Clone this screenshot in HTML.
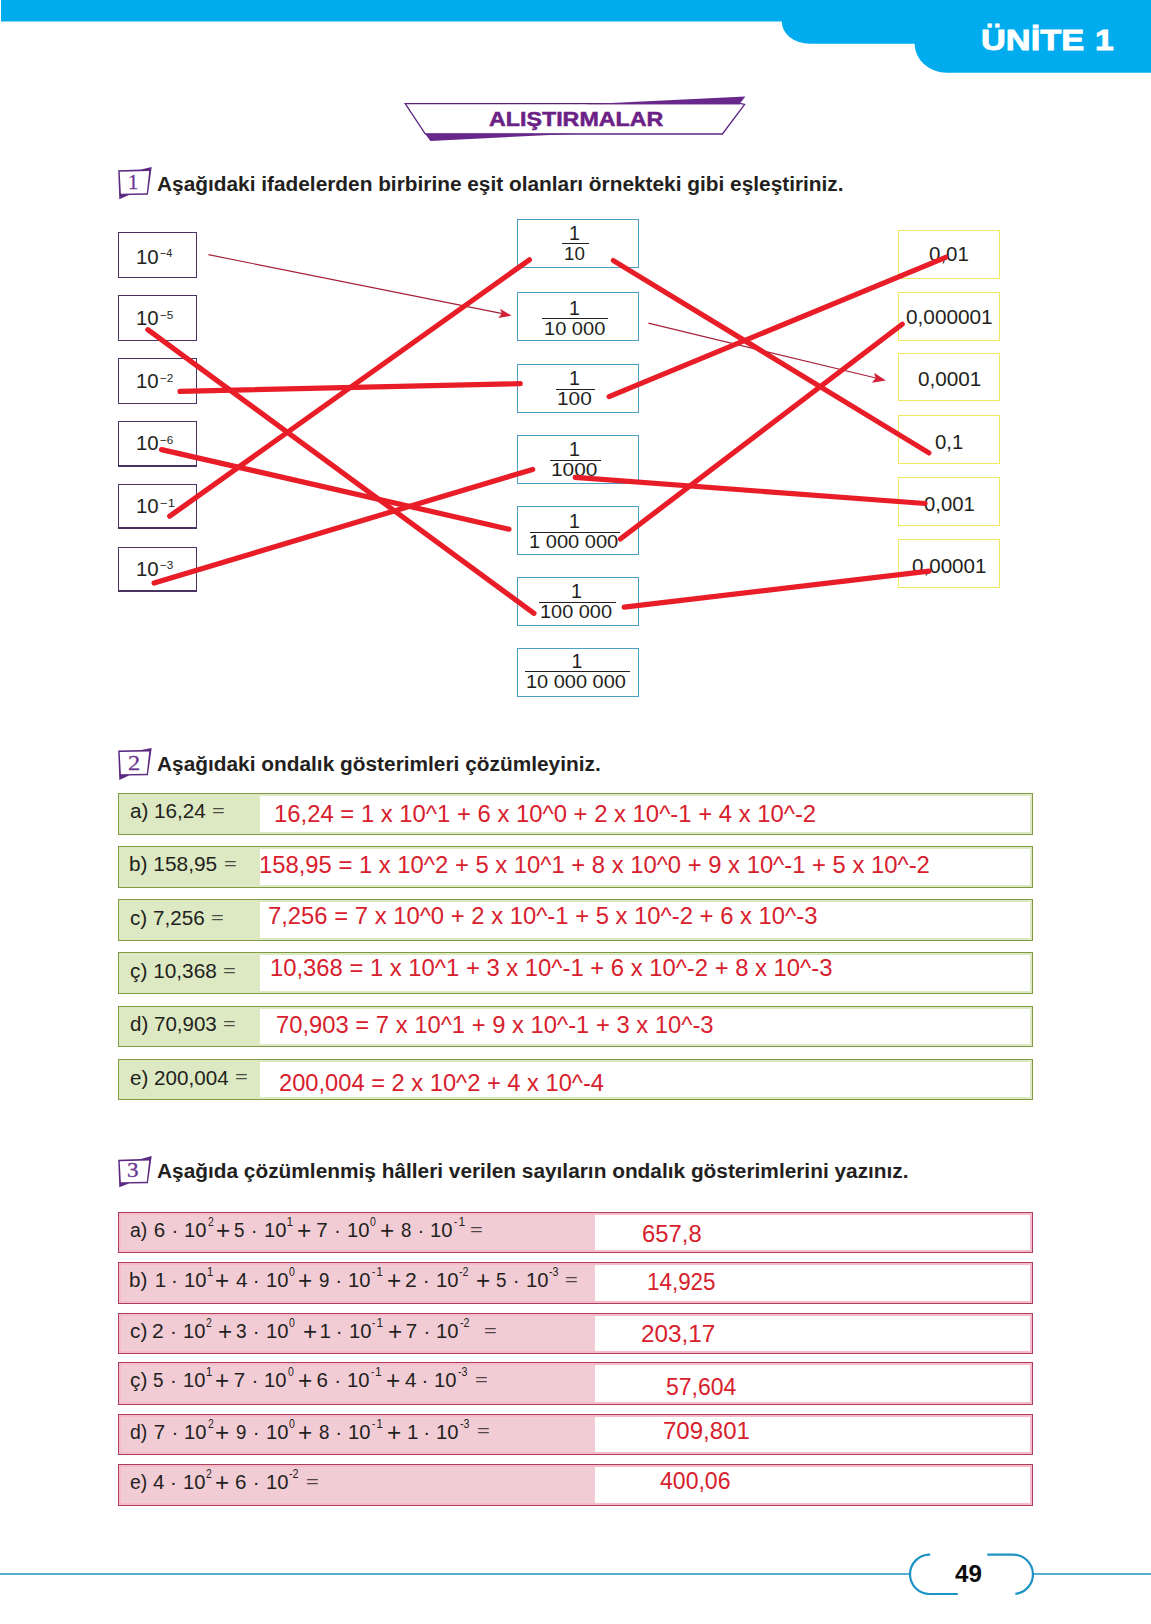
<!DOCTYPE html>
<html lang="tr"><head><meta charset="utf-8"><title>Alıştırmalar – Ünite 1</title>
<style>
html,body{margin:0;padding:0;background:#fff}
body{width:1151px;height:1624px;position:relative;overflow:hidden;font-family:'Liberation Sans',sans-serif;font-kerning:none;color:#231f20}
.abs{position:absolute;display:block}
.t{position:absolute;white-space:pre;line-height:0;transform-origin:0 50%;display:block}
.bx{position:absolute;box-sizing:border-box;background:#fff}
.lb{border:1px solid #4a3263}
.cb{border:1px solid #4b9fc3}
.rb{border:1px solid #f0e85e}
.bar{position:absolute;height:1px;background:#231f20}
.row{position:absolute;box-sizing:border-box}
.row .ans{position:absolute;top:2px;bottom:2px;right:2px;background:#fff}
.g{background:#dce9c2;border:1px solid #7f9a40}
.p{background:#f1ccd5;border:1px solid #ae3f5c;box-shadow:inset 0 0 0 2px #f7bccb}
</style></head>
<body>
<header>
<svg class="abs" style="left:0;top:0" width="1151" height="80" viewBox="0 0 1151 80"><path d="M1,0 H1151 V72.8 H946.9 A32.3,29.1 0 0 1 914.6,43.7 H809.6 A27.9,22.1 0 0 1 781.7,21.6 H1 Z" fill="#00acee"/></svg>
<span class="t" id="t1" style="left:981.45px;top:39.70px;font-size:30.00px;color:#fff;font-weight:bold;transform:scaleX(1.1467);-webkit-text-stroke:0.9px #fff;">ÜNİTE</span>
<span class="t" id="t2" style="left:1094.53px;top:39.70px;font-size:30.00px;color:#fff;font-weight:bold;transform:scaleX(1.1197);-webkit-text-stroke:0.9px #fff;">1</span>
<svg class="abs" style="left:395px;top:90px" width="360" height="60" viewBox="395 90 360 60">
<path d="M405.2,103.7 L741,103.7 L744.6,104.4 L722.4,134 L425.4,134 Z" fill="#fff" stroke="#5f2482" stroke-width="1.3" stroke-linejoin="miter"/>
<path d="M585,104.2 L745.4,96.5 L739.3,104.2 Z" fill="#68278a"/>
<path d="M425,133.7 L576,133.7 L430.4,140.9 Z" fill="#68278a"/>
</svg>
<span class="t" id="t3" style="left:489.00px;top:118.90px;font-size:20.20px;color:#6c2186;font-weight:bold;transform:scaleX(1.1515);-webkit-text-stroke:0.5px #6c2186;">ALIŞTIRMALAR</span>
</header>
<main>
<svg class="abs" style="left:110px;top:161.3px" width="50" height="44" viewBox="110 161.3 50 44"><path d="M118.2,170.5 L141,169.9 L151.7,167.3 L147.9,195.0 L129,195.4 L119.3,199.6 Z M119.7,172.0 L149.2,171.3 L146.8,193.5 L120.9,194.0 Z" fill="#5c2a80" fill-rule="evenodd"/></svg>
<span class="t" id="t4" style="left:127.97px;top:181.88px;font-size:22.00px;color:#6a3590;font-family:'Liberation Serif',serif;transform:scaleX(0.9333);-webkit-text-stroke:0.3px #6a3590;">1</span>
<span class="t" id="t5" style="left:157.20px;top:183.67px;font-size:20.00px;color:#231f20;font-weight:bold;transform:scaleX(1.0417);">Aşağıdaki ifadelerden birbirine eşit olanları örnekteki gibi eşleştiriniz.</span>
<svg class="abs" style="left:110px;top:742.2px" width="50" height="44" viewBox="110 742.2 50 44"><path d="M118.2,750.8 L141,750.2 L151.7,748.2 L147.9,775.4 L129,775.8 L119.3,780.3 Z M119.7,752.3 L149.2,751.6 L146.8,773.9 L120.9,774.4 Z" fill="#5c2a80" fill-rule="evenodd"/></svg>
<span class="t" id="t6" style="left:128.35px;top:762.78px;font-size:22.00px;color:#6a3590;font-family:'Liberation Serif',serif;transform:scaleX(1.1100);-webkit-text-stroke:0.3px #6a3590;">2</span>
<span class="t" id="t7" style="left:157.20px;top:763.67px;font-size:20.00px;color:#231f20;font-weight:bold;transform:scaleX(1.0423);">Aşağıdaki ondalık gösterimleri çözümleyiniz.</span>
<svg class="abs" style="left:110px;top:1149.6px" width="50" height="44" viewBox="110 1149.6 50 44"><path d="M118.2,1159.3 L141,1158.7 L151.7,1155.6 L147.9,1182.8 L129,1183.2 L119.3,1186.8 Z M119.7,1160.8 L149.2,1160.1 L146.8,1181.3 L120.9,1181.8 Z" fill="#5c2a80" fill-rule="evenodd"/></svg>
<span class="t" id="t8" style="left:127.10px;top:1170.28px;font-size:22.00px;color:#6a3590;font-family:'Liberation Serif',serif;transform:scaleX(1.0500);-webkit-text-stroke:0.3px #6a3590;">3</span>
<span class="t" id="t9" style="left:157.20px;top:1170.87px;font-size:20.00px;color:#231f20;font-weight:bold;transform:scaleX(1.0419);">Aşağıda çözümlenmiş hâlleri verilen sayıların ondalık gösterimlerini yazınız.</span>
<section id="ex1">
<div class="bx lb" style="left:118px;top:232px;width:79px;height:46px;"></div>
<span class="t" id="t10" style="left:135.93px;top:256.73px;font-size:20.40px;">10</span>
<span class="t" id="t11" style="left:160.00px;top:253.08px;font-size:11.60px;transform:scaleX(0.9368);">−4</span>
<div class="bx lb" style="left:118px;top:295px;width:79px;height:46px;"></div>
<span class="t" id="t12" style="left:135.93px;top:318.13px;font-size:20.40px;">10</span>
<span class="t" id="t13" style="left:160.00px;top:315.08px;font-size:11.60px;transform:scaleX(1.0101);">−5</span>
<div class="bx lb" style="left:118px;top:358px;width:79px;height:46px;"></div>
<span class="t" id="t14" style="left:135.93px;top:381.43px;font-size:20.40px;">10</span>
<span class="t" id="t15" style="left:160.00px;top:378.08px;font-size:11.60px;transform:scaleX(1.0101);">−2</span>
<div class="bx lb" style="left:118px;top:421px;width:79px;height:46px;border-bottom-width:2px;"></div>
<span class="t" id="t16" style="left:135.93px;top:443.43px;font-size:20.40px;">10</span>
<span class="t" id="t17" style="left:160.00px;top:440.08px;font-size:11.60px;transform:scaleX(1.0101);">−6</span>
<div class="bx lb" style="left:118px;top:484px;width:79px;height:45px;border-bottom-width:2px;"></div>
<span class="t" id="t18" style="left:135.93px;top:506.43px;font-size:20.40px;">10</span>
<span class="t" id="t19" style="left:160.00px;top:502.78px;font-size:11.60px;transform:scaleX(1.1300);">−1</span>
<div class="bx lb" style="left:118px;top:547px;width:79px;height:45px;border-bottom-width:2px;"></div>
<span class="t" id="t20" style="left:135.93px;top:568.73px;font-size:20.40px;">10</span>
<span class="t" id="t21" style="left:160.00px;top:565.08px;font-size:11.60px;transform:scaleX(1.0101);">−3</span>
<div class="bx cb" style="left:517px;top:219px;width:122px;height:49px;"></div>
<span class="t" id="t22" style="left:568.90px;top:233.01px;font-size:19.60px;">1</span>
<div class="bar" style="left:562.0px;top:243px;width:27.0px"></div>
<span class="t" id="t23" style="left:563.69px;top:253.85px;font-size:19.20px;transform:scaleX(0.9778);">10</span>
<div class="bx cb" style="left:517px;top:292px;width:122px;height:49px;"></div>
<span class="t" id="t24" style="left:568.90px;top:308.01px;font-size:19.60px;">1</span>
<div class="bar" style="left:541.9px;top:318px;width:66.0px"></div>
<span class="t" id="t25" style="left:543.62px;top:329.25px;font-size:19.20px;transform:scaleX(1.0442);">10 000</span>
<div class="bx cb" style="left:517px;top:364px;width:122px;height:49px;"></div>
<span class="t" id="t26" style="left:568.90px;top:378.01px;font-size:19.60px;">1</span>
<div class="bar" style="left:556.0px;top:389px;width:38.8px"></div>
<span class="t" id="t27" style="left:556.88px;top:398.85px;font-size:19.20px;transform:scaleX(1.0854);">100</span>
<div class="bx cb" style="left:517px;top:435px;width:122px;height:49px;"></div>
<span class="t" id="t28" style="left:568.90px;top:448.91px;font-size:19.60px;">1</span>
<div class="bar" style="left:550.1px;top:460px;width:50.9px"></div>
<span class="t" id="t29" style="left:550.88px;top:469.95px;font-size:19.20px;transform:scaleX(1.0883);">1000</span>
<div class="bx cb" style="left:517px;top:506px;width:122px;height:49px;"></div>
<span class="t" id="t30" style="left:568.90px;top:521.01px;font-size:19.60px;">1</span>
<div class="bar" style="left:530.0px;top:532px;width:90.0px"></div>
<span class="t" id="t31" style="left:529.02px;top:541.85px;font-size:19.20px;transform:scaleX(1.0459);">1 000 000</span>
<div class="bx cb" style="left:517px;top:577px;width:122px;height:49px;"></div>
<span class="t" id="t32" style="left:571.00px;top:591.01px;font-size:19.60px;">1</span>
<div class="bar" style="left:539.2px;top:602px;width:76.6px"></div>
<span class="t" id="t33" style="left:540.23px;top:611.75px;font-size:19.20px;transform:scaleX(1.0376);">100 000</span>
<div class="bx cb" style="left:517px;top:648px;width:122px;height:49px;"></div>
<span class="t" id="t34" style="left:571.40px;top:660.91px;font-size:19.60px;">1</span>
<div class="bar" style="left:525.0px;top:671px;width:105.0px"></div>
<span class="t" id="t35" style="left:526.33px;top:681.85px;font-size:19.20px;transform:scaleX(1.0400);">10 000 000</span>
<div class="bx rb" style="left:898px;top:230px;width:102px;height:49px;"></div>
<span class="t" id="t36" style="left:929.20px;top:253.67px;font-size:20.00px;transform:scaleX(1.0242);">0,01</span>
<div class="bx rb" style="left:898px;top:292px;width:102px;height:49px;"></div>
<span class="t" id="t37" style="left:906.10px;top:316.87px;font-size:20.00px;transform:scaleX(1.0390);">0,000001</span>
<div class="bx rb" style="left:898px;top:353px;width:102px;height:48px;"></div>
<span class="t" id="t38" style="left:917.70px;top:378.67px;font-size:20.00px;transform:scaleX(1.0359);">0,0001</span>
<div class="bx rb" style="left:898px;top:415px;width:102px;height:49px;"></div>
<span class="t" id="t39" style="left:935.00px;top:441.67px;font-size:20.00px;transform:scaleX(1.0166);">0,1</span>
<div class="bx rb" style="left:898px;top:477px;width:102px;height:49px;"></div>
<span class="t" id="t40" style="left:923.80px;top:503.67px;font-size:20.00px;transform:scaleX(1.0143);">0,001</span>
<div class="bx rb" style="left:898px;top:539px;width:102px;height:49px;"></div>
<span class="t" id="t41" style="left:911.90px;top:566.27px;font-size:20.00px;transform:scaleX(1.0300);">0,00001</span>
<svg class="abs" style="left:0;top:200px" width="1151" height="520" viewBox="0 200 1151 520"><g stroke="#a5203a" stroke-width="1.2" fill="#d1223a"><line x1="208.4" y1="254.7" x2="502.5" y2="313.7"/><path d="M511.6,315.6 L500.1,308.8 L501.9,313.6 L498.2,318.1 Z" stroke="none"/><line x1="648.4" y1="323.2" x2="876" y2="378"/><path d="M885.9,380.6 L874.1,372.8 L875.6,377.9 L872,382.8 Z" stroke="none"/></g><g stroke="#e91d27" stroke-width="5.2" stroke-linecap="round"><line x1="147.8" y1="329.7" x2="534.0" y2="613.3"/><line x1="180.0" y1="391.4" x2="520.2" y2="383.7"/><line x1="161.6" y1="449.6" x2="509.0" y2="529.2"/><line x1="169.7" y1="516.2" x2="529.4" y2="259.8"/><line x1="154.1" y1="583.0" x2="532.7" y2="469.4"/><line x1="613.4" y1="260.6" x2="928.9" y2="452.9"/><line x1="609.1" y1="396.6" x2="945.7" y2="257.3"/><line x1="575.2" y1="477.4" x2="925.1" y2="503.5"/><line x1="620.3" y1="539.0" x2="902.2" y2="324.2"/><line x1="624.2" y1="607.2" x2="929.1" y2="571.1"/></g></svg>
</section>
<section id="ex2">
<div class="row g" style="left:118px;top:793px;width:915px;height:42px"><div class="ans" style="left:141px"></div></div>
<span class="t" id="t42" style="left:130.00px;top:811.40px;font-size:20.50px;transform:scaleX(1.0077);">a) 16,24</span>
<span class="t" id="t43" style="left:212.40px;top:811.31px;font-size:17.00px;color:rgba(35,31,32,.78);transform:scaleX(1.2900);">=</span>
<span class="t" id="t44" style="left:274.01px;top:813.72px;font-size:23.60px;color:#d8202d;transform:scaleX(1.0111);">16,24 = 1 x 10^1 + 6 x 10^0 + 2 x 10^-1 + 4 x 10^-2</span>
<div class="row g" style="left:118px;top:846px;width:915px;height:42px"><div class="ans" style="left:141px"></div></div>
<span class="t" id="t45" style="left:128.98px;top:864.30px;font-size:20.50px;transform:scaleX(1.0173);">b) 158,95</span>
<span class="t" id="t46" style="left:223.70px;top:864.21px;font-size:17.00px;color:rgba(35,31,32,.78);transform:scaleX(1.2900);">=</span>
<span class="t" id="t47" style="left:258.81px;top:865.42px;font-size:23.60px;color:#d8202d;transform:scaleX(1.0093);">158,95 = 1 x 10^2 + 5 x 10^1 + 8 x 10^0 + 9 x 10^-1 + 5 x 10^-2</span>
<div class="row g" style="left:118px;top:899px;width:915px;height:42px"><div class="ans" style="left:141px"></div></div>
<span class="t" id="t48" style="left:130.00px;top:917.70px;font-size:20.50px;transform:scaleX(1.0085);">c) 7,256</span>
<span class="t" id="t49" style="left:211.30px;top:917.61px;font-size:17.00px;color:rgba(35,31,32,.78);transform:scaleX(1.2900);">=</span>
<span class="t" id="t50" style="left:267.89px;top:915.62px;font-size:23.60px;color:#d8202d;transform:scaleX(1.0099);">7,256 = 7 x 10^0 + 2 x 10^-1 + 5 x 10^-2 + 6 x 10^-3</span>
<div class="row g" style="left:118px;top:952px;width:915px;height:42px"><div class="ans" style="left:141px"></div></div>
<span class="t" id="t51" style="left:130.00px;top:971.10px;font-size:20.50px;transform:scaleX(1.0156);">ç) 10,368</span>
<span class="t" id="t52" style="left:223.40px;top:971.01px;font-size:17.00px;color:rgba(35,31,32,.78);transform:scaleX(1.2900);">=</span>
<span class="t" id="t53" style="left:270.11px;top:967.92px;font-size:23.60px;color:#d8202d;transform:scaleX(1.0094);">10,368 = 1 x 10^1 + 3 x 10^-1 + 6 x 10^-2 + 8 x 10^-3</span>
<div class="row g" style="left:118px;top:1006px;width:915px;height:41px"><div class="ans" style="left:141px"></div></div>
<span class="t" id="t54" style="left:130.00px;top:1024.20px;font-size:20.50px;transform:scaleX(1.0020);">d) 70,903</span>
<span class="t" id="t55" style="left:223.40px;top:1024.11px;font-size:17.00px;color:rgba(35,31,32,.78);transform:scaleX(1.2900);">=</span>
<span class="t" id="t56" style="left:275.79px;top:1025.12px;font-size:23.60px;color:#d8202d;transform:scaleX(1.0083);">70,903 = 7 x 10^1 + 9 x 10^-1 + 3 x 10^-3</span>
<div class="row g" style="left:118px;top:1059px;width:915px;height:41px"><div class="ans" style="left:141px"></div></div>
<span class="t" id="t57" style="left:130.00px;top:1077.50px;font-size:20.50px;transform:scaleX(1.0059);">e) 200,004</span>
<span class="t" id="t58" style="left:235.20px;top:1077.41px;font-size:17.00px;color:rgba(35,31,32,.78);transform:scaleX(1.2900);">=</span>
<span class="t" id="t59" style="left:279.40px;top:1082.92px;font-size:23.60px;color:#d8202d;transform:scaleX(1.0036);">200,004 = 2 x 10^2 + 4 x 10^-4</span>
</section>
<section id="ex3">
<div class="row p" style="left:118px;top:1212px;width:915px;height:41px"><div class="ans" style="left:476px"></div></div>
<span class="t" id="t60" style="left:130.20px;top:1229.70px;font-size:20.50px;transform:scaleX(0.9482);">a)</span>
<span class="t" id="t61" style="left:153.70px;top:1229.70px;font-size:20.50px;">6</span>
<span class="t" id="t62" style="left:171.40px;top:1229.70px;font-size:20.50px;">·</span>
<span class="t" id="t63" style="left:184.24px;top:1229.70px;font-size:20.50px;transform:scaleX(0.9848);">10</span>
<span class="t" id="t64" style="left:207.50px;top:1221.74px;font-size:12.00px;transform:scaleX(0.8714);">2</span>
<span class="t" id="t65" style="left:215.95px;top:1229.86px;font-size:25.50px;transform:scaleX(0.9538);">+</span>
<span class="t" id="t66" style="left:234.10px;top:1229.70px;font-size:20.50px;transform:scaleX(0.9182);">5</span>
<span class="t" id="t67" style="left:250.80px;top:1229.70px;font-size:20.50px;">·</span>
<span class="t" id="t68" style="left:263.64px;top:1229.70px;font-size:20.50px;transform:scaleX(0.9848);">10</span>
<span class="t" id="t69" style="left:286.52px;top:1221.74px;font-size:12.00px;">1</span>
<span class="t" id="t70" style="left:297.05px;top:1229.86px;font-size:25.50px;transform:scaleX(0.9538);">+</span>
<span class="t" id="t71" style="left:316.30px;top:1229.70px;font-size:20.50px;">7</span>
<span class="t" id="t72" style="left:334.00px;top:1229.70px;font-size:20.50px;">·</span>
<span class="t" id="t73" style="left:346.84px;top:1229.70px;font-size:20.50px;transform:scaleX(0.9848);">10</span>
<span class="t" id="t74" style="left:370.10px;top:1221.74px;font-size:12.00px;transform:scaleX(0.8714);">0</span>
<span class="t" id="t75" style="left:380.45px;top:1229.86px;font-size:25.50px;transform:scaleX(0.9538);">+</span>
<span class="t" id="t76" style="left:400.80px;top:1229.70px;font-size:20.50px;transform:scaleX(0.9091);">8</span>
<span class="t" id="t77" style="left:417.50px;top:1229.70px;font-size:20.50px;">·</span>
<span class="t" id="t78" style="left:430.34px;top:1229.70px;font-size:20.50px;transform:scaleX(0.9848);">10</span>
<span class="t" id="t79" style="left:453.80px;top:1221.74px;font-size:12.00px;transform:scaleX(0.8000);">-</span>
<span class="t" id="t80" style="left:458.42px;top:1221.74px;font-size:12.00px;">1</span>
<span class="t" id="t81" style="left:469.90px;top:1229.61px;font-size:17.00px;color:rgba(35,31,32,.78);transform:scaleX(1.2900);">=</span>
<span class="t" id="t82" style="left:641.69px;top:1233.92px;font-size:23.60px;color:#d8202d;transform:scaleX(1.0100);">657,8</span>
<div class="row p" style="left:118px;top:1262px;width:915px;height:42px"><div class="ans" style="left:476px"></div></div>
<span class="t" id="t83" style="left:129.19px;top:1280.30px;font-size:20.50px;transform:scaleX(1.0060);">b)</span>
<span class="t" id="t84" style="left:154.73px;top:1280.30px;font-size:20.50px;">1</span>
<span class="t" id="t85" style="left:171.00px;top:1280.30px;font-size:20.50px;">·</span>
<span class="t" id="t86" style="left:183.84px;top:1280.30px;font-size:20.50px;transform:scaleX(0.9848);">10</span>
<span class="t" id="t87" style="left:206.72px;top:1272.34px;font-size:12.00px;">1</span>
<span class="t" id="t88" style="left:214.95px;top:1280.46px;font-size:25.50px;transform:scaleX(0.9538);">+</span>
<span class="t" id="t89" style="left:236.00px;top:1280.30px;font-size:20.50px;transform:scaleX(1.0091);">4</span>
<span class="t" id="t90" style="left:252.70px;top:1280.30px;font-size:20.50px;">·</span>
<span class="t" id="t91" style="left:265.54px;top:1280.30px;font-size:20.50px;transform:scaleX(0.9848);">10</span>
<span class="t" id="t92" style="left:288.80px;top:1272.34px;font-size:12.00px;transform:scaleX(0.8714);">0</span>
<span class="t" id="t93" style="left:298.35px;top:1280.46px;font-size:25.50px;transform:scaleX(0.9538);">+</span>
<span class="t" id="t94" style="left:318.60px;top:1280.30px;font-size:20.50px;transform:scaleX(0.9091);">9</span>
<span class="t" id="t95" style="left:335.30px;top:1280.30px;font-size:20.50px;">·</span>
<span class="t" id="t96" style="left:348.14px;top:1280.30px;font-size:20.50px;transform:scaleX(0.9848);">10</span>
<span class="t" id="t97" style="left:371.60px;top:1272.34px;font-size:12.00px;transform:scaleX(0.8000);">-</span>
<span class="t" id="t98" style="left:376.22px;top:1272.34px;font-size:12.00px;">1</span>
<span class="t" id="t99" style="left:387.45px;top:1280.46px;font-size:25.50px;transform:scaleX(0.9538);">+</span>
<span class="t" id="t100" style="left:405.07px;top:1280.30px;font-size:20.50px;transform:scaleX(1.0300);">2</span>
<span class="t" id="t101" style="left:422.80px;top:1280.30px;font-size:20.50px;">·</span>
<span class="t" id="t102" style="left:435.64px;top:1280.30px;font-size:20.50px;transform:scaleX(0.9848);">10</span>
<span class="t" id="t103" style="left:459.10px;top:1272.34px;font-size:12.00px;transform:scaleX(0.8912);">-2</span>
<span class="t" id="t104" style="left:475.95px;top:1280.46px;font-size:25.50px;transform:scaleX(0.9538);">+</span>
<span class="t" id="t105" style="left:496.00px;top:1280.30px;font-size:20.50px;transform:scaleX(0.9182);">5</span>
<span class="t" id="t106" style="left:512.70px;top:1280.30px;font-size:20.50px;">·</span>
<span class="t" id="t107" style="left:525.54px;top:1280.30px;font-size:20.50px;transform:scaleX(0.9848);">10</span>
<span class="t" id="t108" style="left:549.00px;top:1272.34px;font-size:12.00px;transform:scaleX(0.8912);">-3</span>
<span class="t" id="t109" style="left:565.00px;top:1280.21px;font-size:17.00px;color:rgba(35,31,32,.78);transform:scaleX(1.2900);">=</span>
<span class="t" id="t110" style="left:647.07px;top:1281.72px;font-size:23.60px;color:#d8202d;transform:scaleX(0.9498);">14,925</span>
<div class="row p" style="left:118px;top:1313px;width:915px;height:41px"><div class="ans" style="left:476px"></div></div>
<span class="t" id="t111" style="left:130.20px;top:1330.70px;font-size:20.50px;transform:scaleX(1.0154);">c)</span>
<span class="t" id="t112" style="left:152.37px;top:1330.70px;font-size:20.50px;transform:scaleX(1.0300);">2</span>
<span class="t" id="t113" style="left:170.10px;top:1330.70px;font-size:20.50px;">·</span>
<span class="t" id="t114" style="left:182.94px;top:1330.70px;font-size:20.50px;transform:scaleX(0.9848);">10</span>
<span class="t" id="t115" style="left:206.20px;top:1322.74px;font-size:12.00px;transform:scaleX(0.8714);">2</span>
<span class="t" id="t116" style="left:217.55px;top:1330.86px;font-size:25.50px;transform:scaleX(0.9538);">+</span>
<span class="t" id="t117" style="left:236.00px;top:1330.70px;font-size:20.50px;transform:scaleX(0.9273);">3</span>
<span class="t" id="t118" style="left:252.70px;top:1330.70px;font-size:20.50px;">·</span>
<span class="t" id="t119" style="left:265.54px;top:1330.70px;font-size:20.50px;transform:scaleX(0.9848);">10</span>
<span class="t" id="t120" style="left:288.80px;top:1322.74px;font-size:12.00px;transform:scaleX(0.8714);">0</span>
<span class="t" id="t121" style="left:302.75px;top:1330.86px;font-size:25.50px;transform:scaleX(0.9538);">+</span>
<span class="t" id="t122" style="left:319.43px;top:1330.70px;font-size:20.50px;">1</span>
<span class="t" id="t123" style="left:335.70px;top:1330.70px;font-size:20.50px;">·</span>
<span class="t" id="t124" style="left:348.54px;top:1330.70px;font-size:20.50px;transform:scaleX(0.9848);">10</span>
<span class="t" id="t125" style="left:372.00px;top:1322.74px;font-size:12.00px;transform:scaleX(0.8000);">-</span>
<span class="t" id="t126" style="left:376.62px;top:1322.74px;font-size:12.00px;">1</span>
<span class="t" id="t127" style="left:387.65px;top:1330.86px;font-size:25.50px;transform:scaleX(0.9538);">+</span>
<span class="t" id="t128" style="left:405.80px;top:1330.70px;font-size:20.50px;">7</span>
<span class="t" id="t129" style="left:423.50px;top:1330.70px;font-size:20.50px;">·</span>
<span class="t" id="t130" style="left:436.34px;top:1330.70px;font-size:20.50px;transform:scaleX(0.9848);">10</span>
<span class="t" id="t131" style="left:459.80px;top:1322.74px;font-size:12.00px;transform:scaleX(0.8912);">-2</span>
<span class="t" id="t132" style="left:483.70px;top:1330.61px;font-size:17.00px;color:rgba(35,31,32,.78);transform:scaleX(1.2900);">=</span>
<span class="t" id="t133" style="left:641.47px;top:1333.82px;font-size:23.60px;color:#d8202d;transform:scaleX(1.0294);">203,17</span>
<div class="row p" style="left:118px;top:1362px;width:915px;height:43px"><div class="ans" style="left:476px"></div></div>
<span class="t" id="t134" style="left:130.20px;top:1380.30px;font-size:20.50px;transform:scaleX(1.0154);">ç)</span>
<span class="t" id="t135" style="left:153.40px;top:1380.30px;font-size:20.50px;transform:scaleX(0.9182);">5</span>
<span class="t" id="t136" style="left:170.10px;top:1380.30px;font-size:20.50px;">·</span>
<span class="t" id="t137" style="left:182.94px;top:1380.30px;font-size:20.50px;transform:scaleX(0.9848);">10</span>
<span class="t" id="t138" style="left:205.82px;top:1372.34px;font-size:12.00px;">1</span>
<span class="t" id="t139" style="left:214.95px;top:1380.46px;font-size:25.50px;transform:scaleX(0.9538);">+</span>
<span class="t" id="t140" style="left:233.70px;top:1380.30px;font-size:20.50px;">7</span>
<span class="t" id="t141" style="left:251.40px;top:1380.30px;font-size:20.50px;">·</span>
<span class="t" id="t142" style="left:264.24px;top:1380.30px;font-size:20.50px;transform:scaleX(0.9848);">10</span>
<span class="t" id="t143" style="left:287.50px;top:1372.34px;font-size:12.00px;transform:scaleX(0.8714);">0</span>
<span class="t" id="t144" style="left:297.55px;top:1380.46px;font-size:25.50px;transform:scaleX(0.9538);">+</span>
<span class="t" id="t145" style="left:316.50px;top:1380.30px;font-size:20.50px;">6</span>
<span class="t" id="t146" style="left:334.20px;top:1380.30px;font-size:20.50px;">·</span>
<span class="t" id="t147" style="left:347.04px;top:1380.30px;font-size:20.50px;transform:scaleX(0.9848);">10</span>
<span class="t" id="t148" style="left:370.50px;top:1372.34px;font-size:12.00px;transform:scaleX(0.8000);">-</span>
<span class="t" id="t149" style="left:375.12px;top:1372.34px;font-size:12.00px;">1</span>
<span class="t" id="t150" style="left:386.45px;top:1380.46px;font-size:25.50px;transform:scaleX(0.9538);">+</span>
<span class="t" id="t151" style="left:404.80px;top:1380.30px;font-size:20.50px;transform:scaleX(1.0091);">4</span>
<span class="t" id="t152" style="left:421.50px;top:1380.30px;font-size:20.50px;">·</span>
<span class="t" id="t153" style="left:434.34px;top:1380.30px;font-size:20.50px;transform:scaleX(0.9848);">10</span>
<span class="t" id="t154" style="left:457.80px;top:1372.34px;font-size:12.00px;transform:scaleX(0.8912);">-3</span>
<span class="t" id="t155" style="left:475.10px;top:1380.21px;font-size:17.00px;color:rgba(35,31,32,.78);transform:scaleX(1.2900);">=</span>
<span class="t" id="t156" style="left:665.60px;top:1387.32px;font-size:23.60px;color:#d8202d;transform:scaleX(0.9758);">57,604</span>
<div class="row p" style="left:118px;top:1414px;width:915px;height:41px"><div class="ans" style="left:476px"></div></div>
<span class="t" id="t157" style="left:130.20px;top:1431.50px;font-size:20.50px;transform:scaleX(0.9482);">d)</span>
<span class="t" id="t158" style="left:153.70px;top:1431.50px;font-size:20.50px;">7</span>
<span class="t" id="t159" style="left:171.40px;top:1431.50px;font-size:20.50px;">·</span>
<span class="t" id="t160" style="left:184.24px;top:1431.50px;font-size:20.50px;transform:scaleX(0.9848);">10</span>
<span class="t" id="t161" style="left:207.50px;top:1423.54px;font-size:12.00px;transform:scaleX(0.8714);">2</span>
<span class="t" id="t162" style="left:215.45px;top:1431.66px;font-size:25.50px;transform:scaleX(0.9538);">+</span>
<span class="t" id="t163" style="left:236.00px;top:1431.50px;font-size:20.50px;transform:scaleX(0.9091);">9</span>
<span class="t" id="t164" style="left:252.70px;top:1431.50px;font-size:20.50px;">·</span>
<span class="t" id="t165" style="left:265.54px;top:1431.50px;font-size:20.50px;transform:scaleX(0.9848);">10</span>
<span class="t" id="t166" style="left:288.80px;top:1423.54px;font-size:12.00px;transform:scaleX(0.8714);">0</span>
<span class="t" id="t167" style="left:297.55px;top:1431.66px;font-size:25.50px;transform:scaleX(0.9538);">+</span>
<span class="t" id="t168" style="left:318.60px;top:1431.50px;font-size:20.50px;transform:scaleX(0.9091);">8</span>
<span class="t" id="t169" style="left:335.30px;top:1431.50px;font-size:20.50px;">·</span>
<span class="t" id="t170" style="left:348.14px;top:1431.50px;font-size:20.50px;transform:scaleX(0.9848);">10</span>
<span class="t" id="t171" style="left:371.60px;top:1423.54px;font-size:12.00px;transform:scaleX(0.8000);">-</span>
<span class="t" id="t172" style="left:376.22px;top:1423.54px;font-size:12.00px;">1</span>
<span class="t" id="t173" style="left:387.35px;top:1431.66px;font-size:25.50px;transform:scaleX(0.9538);">+</span>
<span class="t" id="t174" style="left:406.93px;top:1431.50px;font-size:20.50px;">1</span>
<span class="t" id="t175" style="left:423.20px;top:1431.50px;font-size:20.50px;">·</span>
<span class="t" id="t176" style="left:436.04px;top:1431.50px;font-size:20.50px;transform:scaleX(0.9848);">10</span>
<span class="t" id="t177" style="left:459.50px;top:1423.54px;font-size:12.00px;transform:scaleX(0.8912);">-3</span>
<span class="t" id="t178" style="left:476.90px;top:1431.41px;font-size:17.00px;color:rgba(35,31,32,.78);transform:scaleX(1.2900);">=</span>
<span class="t" id="t179" style="left:663.28px;top:1430.92px;font-size:23.60px;color:#d8202d;transform:scaleX(1.0187);">709,801</span>
<div class="row p" style="left:118px;top:1464px;width:915px;height:42px"><div class="ans" style="left:476px"></div></div>
<span class="t" id="t180" style="left:130.20px;top:1481.80px;font-size:20.50px;transform:scaleX(0.9482);">e)</span>
<span class="t" id="t181" style="left:153.40px;top:1481.80px;font-size:20.50px;transform:scaleX(1.0091);">4</span>
<span class="t" id="t182" style="left:170.10px;top:1481.80px;font-size:20.50px;">·</span>
<span class="t" id="t183" style="left:182.94px;top:1481.80px;font-size:20.50px;transform:scaleX(0.9848);">10</span>
<span class="t" id="t184" style="left:206.20px;top:1473.84px;font-size:12.00px;transform:scaleX(0.8714);">2</span>
<span class="t" id="t185" style="left:215.45px;top:1481.96px;font-size:25.50px;transform:scaleX(0.9538);">+</span>
<span class="t" id="t186" style="left:235.00px;top:1481.80px;font-size:20.50px;">6</span>
<span class="t" id="t187" style="left:252.70px;top:1481.80px;font-size:20.50px;">·</span>
<span class="t" id="t188" style="left:265.54px;top:1481.80px;font-size:20.50px;transform:scaleX(0.9848);">10</span>
<span class="t" id="t189" style="left:289.00px;top:1473.84px;font-size:12.00px;transform:scaleX(0.8912);">-2</span>
<span class="t" id="t190" style="left:305.60px;top:1481.71px;font-size:17.00px;color:rgba(35,31,32,.78);transform:scaleX(1.2900);">=</span>
<span class="t" id="t191" style="left:659.90px;top:1480.92px;font-size:23.60px;color:#d8202d;transform:scaleX(0.9772);">400,06</span>
</section>
</main>
<footer>
<svg class="abs" style="left:0;top:1540px" width="1151" height="70" viewBox="0 1540 1151 70" fill="none" stroke="#1c93c4" stroke-width="2.2">
<path d="M0,1573.9 H909.6 M1033.2,1573.9 H1151" stroke-width="1.5"/>
<path d="M930.2,1554.6 H929.7 A19.7,19.7 0 0 0 929.7,1594 H957.8"/>
<path d="M987.3,1554.6 H1013.2 A19.7,19.7 0 0 1 1015.4,1593.88"/>
</svg>
<span class="t" id="t192" style="left:955.00px;top:1574.28px;font-size:24.00px;color:#0b0b0b;font-weight:bold;transform:scaleX(1.0058);">49</span>
</footer>
</body></html>
